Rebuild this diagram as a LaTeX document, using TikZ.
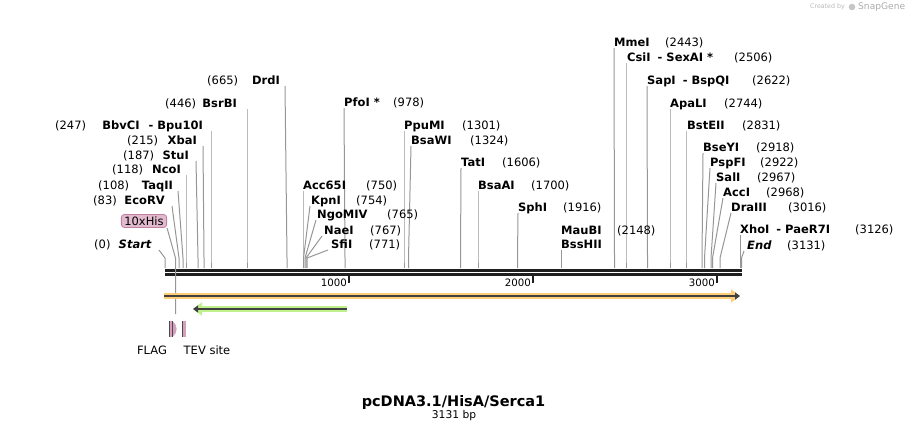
\documentclass[tikz,border=0pt]{standalone}
\usepackage{fontspec}
\setmainfont{DejaVu Sans}
\usetikzlibrary{arrows.meta}

\definecolor{cutgray}{RGB}{150,150,150}
\definecolor{orfglow}{RGB}{255,205,120}
\definecolor{primglow}{RGB}{190,240,140}
\definecolor{featpink}{RGB}{212,160,190}
\definecolor{hispink}{RGB}{226,186,206}
\definecolor{hisedge}{RGB}{190,130,160}

\tikzset{
    txt/.style={inner sep=0pt, font=\fontsize{11.5}{13}\selectfont},
    enz/.style={inner sep=0pt, font=\fontsize{11.5}{13}\selectfont\bfseries},
    cut/.style={cutgray, line width=1pt},
    spine/.style={line width=2.6pt, black!88},
    tick/.style={line width=2pt, black!88},
    feat/.style={fill=featpink},
    featedge/.style={black!70, line width=0.9pt},
}

\begin{document}
\begin{tikzpicture}[x=1pt, y=-1pt]

    \useasboundingbox (0,0) rectangle (907,432);

    \node[anchor=east, inner sep=0pt, text=gray!55, font=\fontsize{6.3}{7}\selectfont]
        (made) at (845,7) {Created by};
    \fill[gray!45] (852,7) circle (3.3pt);
    \node[anchor=west, inner sep=0pt, text=gray!65, font=\fontsize{9.1}{10}\selectfont]
        (snap) at (858,7) {SnapGene};

    % sequence line
    \draw[spine]
        (165,270.5) -- (742,270.5)
        (165,274.5) -- (742,274.5);

    \foreach \x/\t in {349/1000, 533/2000, 717/3000}{
        \draw[tick] (\x,275) -- (\x,283);
        \node[inner sep=0pt, anchor=base east, font=\fontsize{10.2}{12}\selectfont]
            (tk\t) at (\x-2,286) {\t};
    }

    % enzymes written left of their line
    \foreach \nm/\num/\xn/\xe/\yc/\xt/\xb [count=\i] in {
            {\textit{Start}}/0/94/152/244/159/165,
            EcoRV/83/93/165/200/172/179,
            TaqII/108/98/173/185/178/183,
            NcoI/118/112/181/169/186/186,
            StuI/187/123/189/155/196/198,
            XbaI/215/127/197/140/203/204,
            {BbvCI\hspace{9pt}- Bpu10I}/247/55/203/125/211/211,
            BsrBI/446/165/237/103/247/247,
            DrdI/665/207/280/80/285/287}
    {
        \node[txt, anchor=base west] (ln\i) at (\xn,\yc+4) {(\num)};
        \node[enz, anchor=base east] (le\i) at (\xe,\yc+4) {\nm};
        \coordinate (lt\i) at (\xt,\yc+6);
        \coordinate (lk\i) at (\xb,258);
        \coordinate (lb\i) at (\xb,268);
        \draw[cut] (lt\i) -- (lk\i) -- (lb\i);
    }

    % enzymes written right of their line
    \foreach \nm/\num/\xs/\xn/\yc/\xt/\xb [count=\i] in {
            PfoI */978/344/393/102/344/345,
            PpuMI/1301/404/462/125/404/404,
            BsaWI/1324/411/470/140/411/408.5,
            TatI/1606/461/502/162/461/460.5,
            BsaAI/1700/478/531/185/478/478,
            SphI/1916/518/563/207/518/517.5,
            Acc65I/750/303/366/185/303/303,
            KpnI/754/311/356/200/310/303.5,
            NgoMIV/765/317/387/214/316/305,
            NaeI/767/324/370/230/322/306,
            SfiI/771/331/369/244/328/307,
            MmeI/2443/614/665/42/614/614.5,
            {CsiI\hspace{7pt}- SexAI *}/2506/627/734/57/626/626,
            {SapI\hspace{7pt}- BspQI}/2622/647/752/80/647/647.5,
            ApaLI/2744/670/724/103/670/670,
            BstEII/2831/687/742/125/686/686,
            BseYI/2918/703/756/147/703/702,
            PspFI/2922/710/760/162/710/704.5,
            SalI/2967/716/757/177/716/711,
            AccI/2968/723/766/192/723/712.5,
            DraIII/3016/731/788/207/731/720,
            {XhoI\hspace{7pt}- PaeR7I}/3126/740/855/229/740/740,
            {\textit{End}}/3131/747/787/245/744/741.5}
    {
        \node[enz, anchor=base west] (re\i) at (\xs,\yc+4) {\nm};
        \node[txt, anchor=base west] (rn\i) at (\xn,\yc+4) {(\num)};
        \coordinate (rt\i) at (\xt,\yc+6);
        \coordinate (rk\i) at (\xb,258);
        \coordinate (rb\i) at (\xb,268);
        \draw[cut] (rt\i) -- (rk\i) -- (rb\i);
    }

    \node[enz, anchor=base west] (mau) at (561,234) {MauBI};
    \node[enz, anchor=base west] (bss) at (561,248) {BssHII};
    \node[txt, anchor=base west] (maun) at (617,234) {(2148)};
    \coordinate (mauk) at (561,250);
    \coordinate (maub) at (561,268);
    \draw[cut] (mauk) -- (maub);

    % 10xHis
    \node[txt, draw=hisedge, fill=hispink, rounded corners=3pt, line width=0.8pt,
          inner xsep=3pt, minimum height=13pt] (his) at (144,221) {10xHis};
    \coordinate (hisk) at (175.5,258);
    \coordinate (hisb) at (175.5,314);
    \draw[cut] (his.south east) -- (hisk) -- (hisb);

    % orf and primer
    \coordinate (orfA) at (164,296);
    \coordinate (orfB) at (740,296);
    \draw[orfglow, line width=6pt, -{Triangle[length=9pt,width=13pt]}] (orfA) -- (orfB);
    \draw[black!75, line width=2pt, -{Triangle[length=5pt,width=7pt]}] (orfA) -- (orfB);

    \coordinate (priA) at (347,309);
    \coordinate (priB) at (193,309);
    \draw[primglow, line width=6pt, -{Triangle[length=9pt,width=13pt]}] (priA) -- (priB);
    \draw[black!75, line width=2pt, -{Triangle[length=5pt,width=7pt]}] (priA) -- (priB);

    % features
    \fill[feat] (169,321) rectangle (172,337);
    \fill[feat] (172.5,321) .. controls (178,325) and (178,333) .. (172.5,337) -- cycle;
    \fill[feat] (182,321) rectangle (185.5,337);
    \draw[featedge]
        (169,321) -- (169,337)
        (172.5,321) -- (172.5,337)
        (182,321) -- (182,337);

    \node[txt] (flag) at (152,350) {FLAG};
    \node[txt] (tev) at (207,350) {TEV site};

    \node[inner sep=0pt, font=\fontsize{14.5}{16}\selectfont\bfseries]
        (title) at (453.5,402) {pcDNA3.1/HisA/Serca1};
    \node[inner sep=0pt, font=\fontsize{10.7}{12}\selectfont]
        (size) at (454,416) {3131 bp};

\end{tikzpicture}
\end{document}
